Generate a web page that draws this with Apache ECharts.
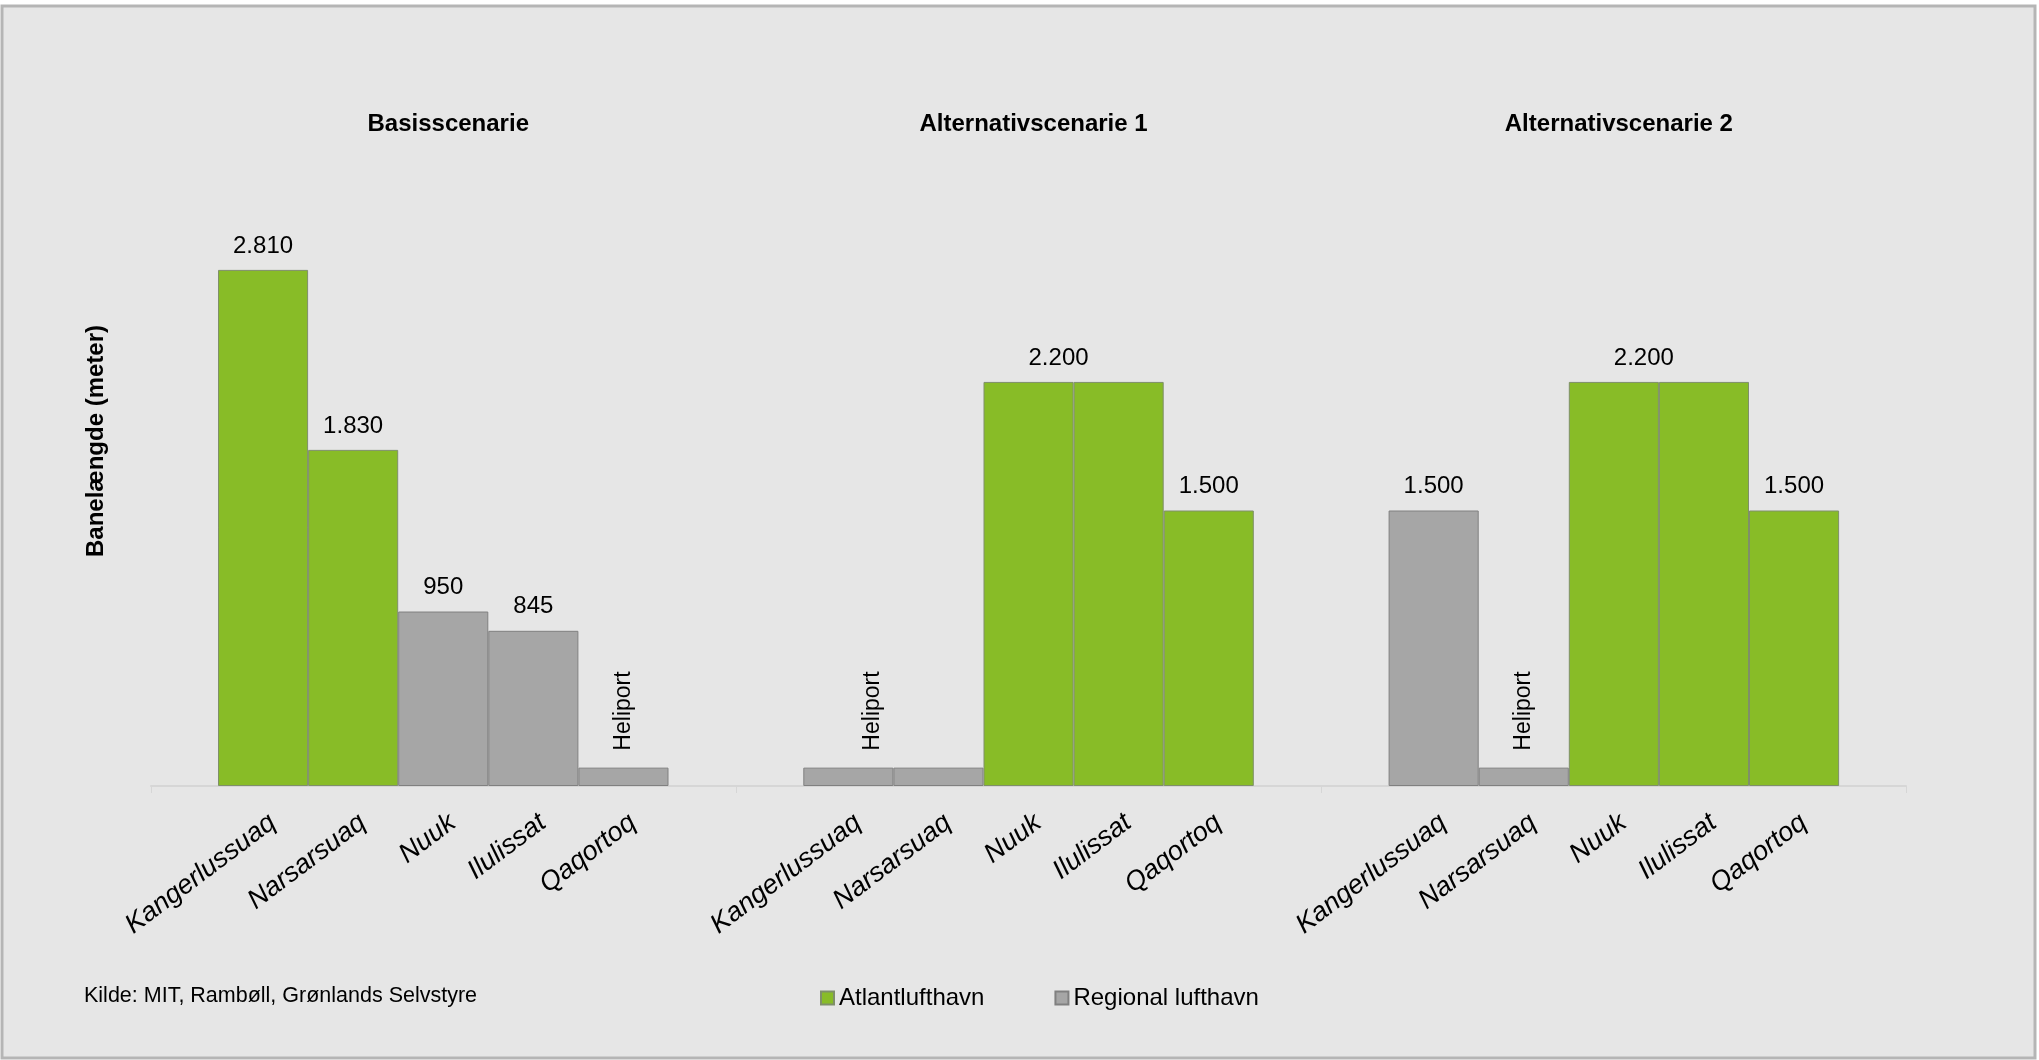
<!DOCTYPE html>
<html>
<head>
    <meta charset="UTF-8">
    <title>Banelængde</title>
    <script src="https://cdn.jsdelivr.net/npm/echarts@6/dist/echarts.min.js" type="text/javascript"></script>
    <style>
        html, body { margin: 0; padding: 0; background: #fff; }
    </style>
</head>
<body>
<div id="chart" style="width:2039px;height:1060px"></div>
<script type="text/javascript">
    // data
    var scenarios = ['Basisscenarie', 'Alternativscenarie 1', 'Alternativscenarie 2'];
    var cities = ['Kangerlussuaq', 'Narsarsuaq', 'Nuuk', 'Ilulissat', 'Qaqortoq'];
    var basisValues = [2810, 1830, 950, 845, 100];
    var alt1Values = [100, 100, 2200, 2200, 1500];
    var alt2Values = [1500, 100, 2200, 2200, 1500];
    // A = Atlantlufthavn, R = Regional lufthavn
    var basisTypes = ['A', 'A', 'R', 'R', 'R'];
    var alt1Types = ['R', 'R', 'A', 'A', 'A'];
    var alt2Types = ['R', 'R', 'A', 'A', 'A'];
    var heliportValue = 100;

    var values = [basisValues, alt1Values, alt2Values];
    var types = [basisTypes, alt1Types, alt2Types];

    var GREEN = '#88bc27';
    var GRAY = '#a6a6a6';
    var FONT = 'Liberation Sans, Arial, sans-serif';

    var myChart = echarts.init(document.getElementById('chart'));

    var plotTop = 235, plotBottom = 274;
    var panelLeft = 218, panelStep = 585.3, panelWidth = 450.5;

    function fmt(v) {
        return String(v).replace(/\B(?=(\d{3})+(?!\d))/g, '.');
    }

    // label for one bar; a pair of equal neighbours shares one label
    function barLabel(vals, typs, j) {
        var v = vals[j];
        var heli = (v === heliportValue);
        var samePrev = j > 0 && vals[j - 1] === v && typs[j - 1] === typs[j];
        var sameNext = j < vals.length - 1 && vals[j + 1] === v && typs[j + 1] === typs[j];
        if (samePrev) return { show: false };
        var lab = {
            show: true,
            position: 'top',
            color: '#000',
            fontFamily: FONT
        };
        if (heli) {
            lab.formatter = 'Heliport';
            lab.rotate = 90;
            lab.align = 'left';
            lab.verticalAlign = 'middle';
            lab.fontSize = 23;
            lab.distance = 17;
            // rotated frame: second component moves to the right
            if (sameNext) lab.offset = [0, 24];
        } else {
            lab.formatter = fmt(v);
            lab.fontSize = 24;
            lab.distance = 12;
            if (sameNext) lab.offset = [30, 0];
        }
        return lab;
    }

    var grids = [{ left: 151, width: 1755, top: plotTop, bottom: plotBottom }];
    var xAxes = [{
        type: 'category',
        gridIndex: 0,
        data: scenarios,
        boundaryGap: true,
        axisLine: { lineStyle: { color: '#d6d6d6', width: 2 } },
        axisTick: { show: true, length: 7, lineStyle: { color: '#d6d6d6', width: 1 } },
        axisLabel: { show: false }
    }];
    var yAxes = [{ type: 'value', gridIndex: 0, min: 0, max: 3000, show: false }];
    var series = [];
    var titles = [];

    for (var i = 0; i < 3; i++) {
        var left = panelLeft + panelStep * i;
        grids.push({ left: left, width: panelWidth, top: plotTop, bottom: plotBottom });
        xAxes.push({
            type: 'category',
            gridIndex: i + 1,
            data: cities,
            axisLine: { show: false },
            axisTick: { show: false },
            axisLabel: {
                rotate: 37,
                margin: 41,
                fontSize: 27,
                fontStyle: 'italic',
                color: '#000',
                fontFamily: FONT,
                padding: [0, -12, 0, 0]
            }
        });
        yAxes.push({ type: 'value', gridIndex: i + 1, min: 0, max: 3000, show: false });

        var atl = [], reg = [];
        for (var j = 0; j < cities.length; j++) {
            var item = { value: values[i][j], label: barLabel(values[i], types[i], j) };
            if (types[i][j] === 'A') { atl.push(item); reg.push('-'); }
            else { reg.push(item); atl.push('-'); }
        }
        series.push({
            name: 'Atlantlufthavn',
            type: 'bar',
            xAxisIndex: i + 1,
            yAxisIndex: i + 1,
            data: atl,
            barGap: '-100%',
            barCategoryGap: 0,
            itemStyle: { color: GREEN, borderColor: '#7f8f6a', borderWidth: 1 }
        });
        series.push({
            name: 'Regional lufthavn',
            type: 'bar',
            xAxisIndex: i + 1,
            yAxisIndex: i + 1,
            data: reg,
            barGap: '-100%',
            barCategoryGap: 0,
            itemStyle: { color: GRAY, borderColor: '#808080', borderWidth: 1 }
        });

        titles.push({
            text: scenarios[i],
            left: left + panelWidth / 2,
            top: 107,
            textAlign: 'center',
            textStyle: { fontSize: 24, fontWeight: 'bold', color: '#000', fontFamily: FONT }
        });
    }

    var option = {
        backgroundColor: '#fff',
        animation: false,
        title: titles,
        grid: grids,
        xAxis: xAxes,
        yAxis: yAxes,
        legend: {
            left: 820,
            top: 986,
            padding: 0,
            itemWidth: 13,
            itemHeight: 13,
            itemGap: 70,
            icon: 'rect',
            textStyle: { fontSize: 24, color: '#000', fontFamily: FONT },
            data: ['Atlantlufthavn', 'Regional lufthavn']
        },
        graphic: [
            {
                type: 'rect',
                z: -10,
                silent: true,
                shape: { x: 2, y: 6, width: 2033, height: 1052 },
                style: { fill: '#e6e6e6', stroke: '#b5b5b5', lineWidth: 3 }
            },
            {
                type: 'text',
                x: 96,
                y: 441,
                rotation: Math.PI / 2,
                style: {
                    text: 'Banelængde (meter)',
                    fill: '#000',
                    font: 'bold 24px Liberation Sans, Arial, sans-serif',
                    align: 'center',
                    verticalAlign: 'middle'
                }
            },
            {
                type: 'text',
                x: 84,
                y: 996,
                style: {
                    text: 'Kilde: MIT, Rambøll, Grønlands Selvstyre',
                    fill: '#000',
                    font: '21.5px Liberation Sans, Arial, sans-serif',
                    align: 'left',
                    verticalAlign: 'middle'
                }
            }
        ],
        series: series
    };
    myChart.setOption(option);
</script>
</body>
</html>
